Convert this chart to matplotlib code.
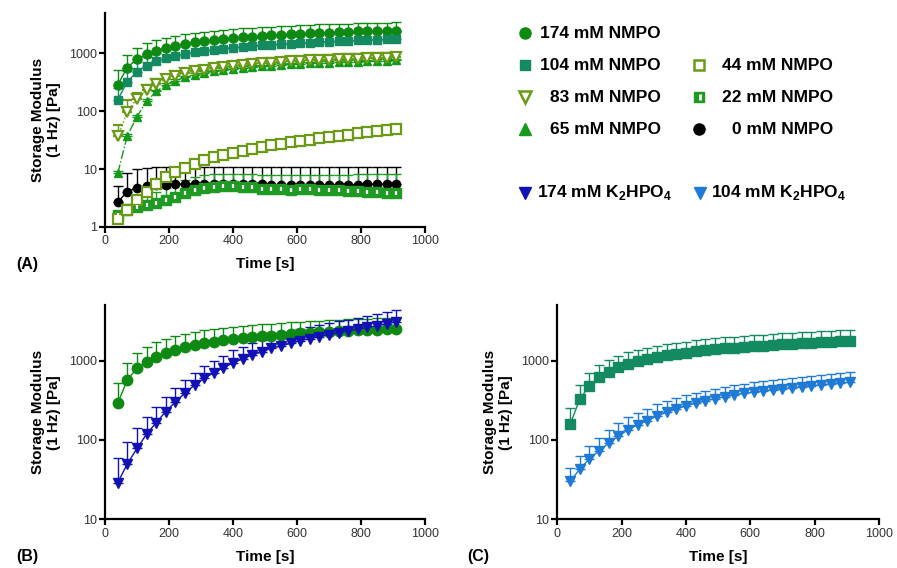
import numpy as np
import matplotlib
matplotlib.use('Agg')
import matplotlib.pyplot as plt
from matplotlib.lines import Line2D
from matplotlib.ticker import FuncFormatter, NullLocator

plt.rcParams['font.family'] = ['Liberation Sans', 'DejaVu Sans']
plt.rcParams['mathtext.fontset'] = 'custom'
plt.rcParams['mathtext.rm'] = 'Liberation Sans'
plt.rcParams['mathtext.bf'] = 'Liberation Sans:bold'

# ---------------- data ----------------
time_s = [40, 70, 100, 130, 160, 190, 220, 250, 280, 310, 340, 370, 400, 430, 460,
          490, 520, 550, 580, 610, 640, 670, 700, 730, 760, 790, 820, 850, 880, 910]

nmpo174 = [290, 570, 800, 970, 1120, 1260, 1370, 1470, 1560, 1640, 1720, 1790, 1850, 1910, 1960,
           2010, 2060, 2110, 2150, 2190, 2230, 2270, 2300, 2340, 2370, 2400, 2420, 2450, 2470, 2490]
nmpo174_err = [230, 370, 460, 530, 570, 620, 660, 690, 720, 750, 770, 790, 810, 830, 840,
               850, 860, 870, 880, 890, 900, 905, 910, 915, 920, 925, 930, 935, 940, 945]

nmpo104 = [158, 326, 484, 618, 727, 826, 908, 983, 1040, 1100, 1160, 1210, 1260, 1300, 1340,
           1380, 1420, 1450, 1480, 1510, 1540, 1570, 1600, 1630, 1650, 1680, 1700, 1720, 1745, 1770]
nmpo104_err = [93, 168, 222, 265, 300, 330, 360, 385, 405, 425, 445, 460, 475, 490, 505,
               520, 535, 545, 555, 565, 575, 585, 595, 605, 615, 625, 635, 645, 655, 670]

nmpo83 = [37, 97, 165, 235, 300, 355, 405, 450, 490, 525, 555, 585, 610, 635, 655,
          675, 695, 712, 728, 742, 756, 770, 782, 794, 805, 816, 826, 836, 845, 855]
nmpo83_err = [20, 58, 45, 55, 62, 68, 74, 80, 86, 92, 98, 104, 110, 115, 120,
              124, 128, 132, 136, 140, 143, 146, 149, 152, 155, 158, 160, 162, 164, 166]

nmpo65 = [8.5, 38, 80, 150, 220, 285, 340, 385, 425, 460, 490, 515, 540, 560, 580,
          598, 615, 630, 644, 657, 670, 682, 693, 703, 713, 722, 731, 740, 748, 756]
nmpo65_err = [0.6, 3, 6, 11, 16, 21, 25, 28, 31, 34, 36, 38, 40, 41, 43,
              44, 45, 46, 47, 48, 49, 50, 51, 52, 52, 53, 54, 54, 55, 56]

nmpo44 = [1.35, 2.0, 2.9, 4.0, 5.6, 7.3, 8.9, 10.6, 12.4, 14.2, 15.9, 17.5, 19.1, 20.7, 22.3,
          24.0, 25.7, 27.4, 29.1, 30.8, 32.5, 34.2, 36.0, 37.8, 39.6, 41.4, 43.3, 45.3, 47.5, 50.0]
nmpo44_err = [0.15, 0.25, 0.35, 0.5, 0.7, 0.9, 1.1, 1.3, 1.5, 1.7, 1.9, 2.1, 2.3, 2.5, 2.7,
              2.9, 3.1, 3.3, 3.5, 3.7, 3.9, 4.1, 4.3, 4.5, 4.7, 4.9, 5.1, 5.3, 5.6, 5.9]

nmpo22 = [1.6, 1.95, 2.2, 2.4, 2.6, 2.9, 3.3, 3.8, 4.3, 4.7, 5.0, 5.1, 5.1, 5.0, 4.9,
          4.6, 4.5, 4.5, 4.4, 4.5, 4.5, 4.4, 4.4, 4.3, 4.2, 4.2, 4.1, 4.0, 3.9, 3.8]
nmpo22_err = [0.3, 0.5, 0.8, 1.1, 1.4, 1.8, 2.2, 2.6, 3.0, 3.2, 3.2, 3.2, 3.2, 3.2, 3.2,
              3.3, 3.4, 3.4, 3.5, 3.5, 3.5, 3.6, 3.6, 3.7, 3.8, 3.9, 4.0, 4.1, 4.2, 4.3]

nmpo0 = [2.7, 4.1, 4.7, 5.1, 5.3, 5.4, 5.5, 5.5, 5.6, 5.6, 5.6, 5.6, 5.5, 5.5, 5.5,
         5.5, 5.4, 5.4, 5.4, 5.4, 5.4, 5.4, 5.4, 5.4, 5.4, 5.4, 5.5, 5.5, 5.5, 5.5]
nmpo0_err = [2.4, 4.5, 5.2, 5.4, 5.5, 5.5, 5.5, 5.5, 5.5, 5.5, 5.5, 5.5, 5.5, 5.5, 5.5,
             5.5, 5.5, 5.5, 5.5, 5.5, 5.5, 5.5, 5.5, 5.5, 5.5, 5.5, 5.4, 5.4, 5.4, 5.4]

k2hpo4_174 = [29, 50, 78, 118, 165, 227, 300, 390, 490, 595, 700, 810, 930, 1050, 1170,
              1290, 1420, 1530, 1650, 1780, 1890, 2000, 2120, 2240, 2360, 2480, 2610, 2740, 2900, 3080]
k2hpo4_174_err = [30, 45, 62, 75, 98, 120, 150, 180, 210, 250, 290, 330, 420, 450, 490,
                  530, 570, 610, 650, 700, 740, 780, 830, 880, 920, 970, 1020, 1070, 1130, 1190]

k2hpo4_104 = [30, 43, 58, 73, 91, 112, 134, 155, 175, 200, 223, 246, 268, 290, 310,
              330, 350, 368, 385, 400, 415, 430, 444, 457, 470, 483, 495, 507, 520, 534]
k2hpo4_104_err = [14, 20, 27, 34, 42, 50, 58, 65, 72, 80, 87, 93, 99, 104, 109,
                  114, 119, 124, 128, 133, 137, 142, 146, 151, 156, 161, 166, 170, 175, 180]

x_ticks = [0, 200, 400, 600, 800, 1000]

# ---------------- colours ----------------
C174 = '#0e8a12'
C104 = '#138a60'
COLIVE = '#6b9a16'
C65 = '#15991a'
C22 = '#1f9a22'
CK174 = '#1212b4'
CK104 = '#1e7ad4'

W, H = 897, 568
fig = plt.figure(figsize=(W / 100, H / 100), dpi=100)

axA = fig.add_axes([0.117, 0.6004, 0.3567, 0.3767])
axB = fig.add_axes([0.117, 0.0857, 0.3567, 0.3773])
axC = fig.add_axes([0.6213, 0.0857, 0.3586, 0.3773])


def style(ax, ymin):
    for s in ['top', 'right']:
        ax.spines[s].set_visible(False)
    for s in ['left', 'bottom']:
        ax.spines[s].set_linewidth(1.6)
    ax.set_yscale('log')
    ax.set_ylim(ymin, 5000)
    ax.set_xlim(0, 1000)
    ax.set_xticks(x_ticks)
    ax.yaxis.set_major_formatter(FuncFormatter(lambda v, p: f'{v:g}'))
    ax.yaxis.set_minor_locator(NullLocator())
    ax.tick_params(length=4, width=1.6, labelsize=9, labelcolor='#333333', pad=2)
    ax.set_xlabel('Time [s]', fontsize=11, fontweight='bold')
    ax.set_ylabel('Storage Modulus\n(1 Hz) [Pa]', fontsize=11, fontweight='bold')
    ax.xaxis.label.set_va('center')
    ax.yaxis.label.set_va('center')
    ax.xaxis.set_label_coords(0.5, -0.175)
    ax.yaxis.set_label_coords(-0.185, 0.5)


def eb(ax, y, err, color, marker, ms, ls='-', mfc=None, mew=1.0, z=2):
    zeros = [0] * len(err)
    ax.errorbar(time_s, y, yerr=[zeros, err], color=color, marker=marker, ms=ms,
                ls=ls, lw=1.0, elinewidth=1.0, capsize=3.5, capthick=1.0,
                mfc=color if mfc is None else mfc, mec=color, mew=mew, zorder=z)


# Panel A
eb(axA, nmpo174, nmpo174_err, C174, 'o', 6.5)
eb(axA, nmpo104, nmpo104_err, C104, 's', 6.0)
eb(axA, nmpo65, nmpo65_err, C65, '^', 6.0, ls='-.')
eb(axA, nmpo83, nmpo83_err, COLIVE, 'v', 6.5, ls=':', mfc='white', mew=1.6)
eb(axA, nmpo0, nmpo0_err, 'black', 'o', 6.0)
eb(axA, nmpo22, nmpo22_err, C22, 's', 6.5)
axA.plot(time_s, nmpo22, ls='none', marker='|', ms=3.5, mew=1.6, color='white', zorder=3)
eb(axA, nmpo44, nmpo44_err, COLIVE, 's', 6.5, mfc='white', mew=1.6)
style(axA, 1)

# Panel B
eb(axB, nmpo174, nmpo174_err, C174, 'o', 7.5)
eb(axB, k2hpo4_174, k2hpo4_174_err, CK174, 'v', 7.0)
style(axB, 10)

# Panel C
eb(axC, nmpo104, nmpo104_err, C104, 's', 7.0)
eb(axC, k2hpo4_104, k2hpo4_104_err, CK104, 'v', 7.0)
style(axC, 10)

# Panel letters
for lbl, px, py in [('(A)', 16, 265), ('(B)', 16, 557), ('(C)', 467, 557)]:
    fig.text(px / W, 1 - py / H, lbl, fontsize=11.5, fontweight='bold', ha='left', va='center')


# Legend (manual)
def fx(px):
    return px / W


def fy(py):
    return 1 - py / H


def leg_marker(px, py, **kw):
    fig.add_artist(Line2D([fx(px)], [fy(py)], transform=fig.transFigure, ls='none', **kw))


LFS = 12.5
rows = [33.3, 65.0, 97.3, 129.3]
# column 1
leg_marker(525, rows[0], marker='o', ms=8, color=C174)
leg_marker(525, rows[1], marker='s', ms=7.5, color=C104)
leg_marker(525, rows[2], marker='v', ms=8, color=COLIVE, mfc='white', mew=1.8)
leg_marker(525, rows[3], marker='^', ms=8, color=C65)
for py, t in zip(rows, ['174 mM NMPO', '104 mM NMPO', '83 mM NMPO', '65 mM NMPO']):
    fig.text(fx(661), fy(py), t, fontsize=LFS, fontweight='bold', ha='right', va='center')
# column 2
leg_marker(699, rows[1], marker='s', ms=7.5, color=COLIVE, mfc='white', mew=1.8)
leg_marker(699, rows[2], marker='s', ms=7.5, color=C22)
leg_marker(700, rows[2], marker='|', ms=4.5, mew=2.0, color='white')
leg_marker(699, rows[3], marker='o', ms=8, color='black')
for py, t in zip(rows[1:], ['44 mM NMPO', '22 mM NMPO', '0 mM NMPO']):
    fig.text(fx(833), fy(py), t, fontsize=LFS, fontweight='bold', ha='right', va='center')
# K2HPO4 row
leg_marker(525, 192.7, marker='v', ms=8, color=CK174)
fig.text(fx(537), fy(192.7), r'174 mM K$_{\mathbf{2}}$HPO$_{\mathbf{4}}$', fontsize=LFS,
         fontweight='bold', ha='left', va='center')
leg_marker(700, 192.7, marker='v', ms=8, color=CK104)
fig.text(fx(711), fy(192.7), r'104 mM K$_{\mathbf{2}}$HPO$_{\mathbf{4}}$', fontsize=LFS,
         fontweight='bold', ha='left', va='center')

fig.savefig('out.png', dpi=100)
